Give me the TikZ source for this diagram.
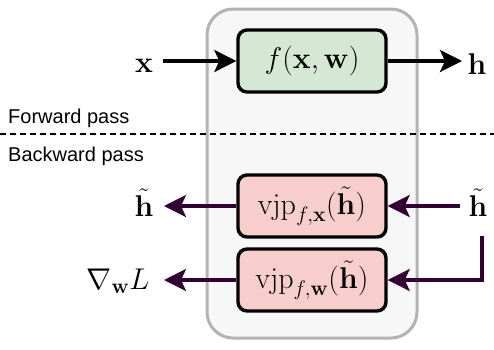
\RequirePackage{fix-cm}
\documentclass[tikz,border=0pt]{standalone}
\usepackage[no-math]{fontspec}
\newfontfamily\passfont{Liberation Sans}
\usetikzlibrary{arrows.meta}
\definecolor{grayfill}{HTML}{F7F7F7}
\definecolor{grayline}{HTML}{B3B3B3}
\definecolor{greenfill}{HTML}{D5E8D4}
\definecolor{redfill}{HTML}{F8CECC}
\definecolor{purp}{HTML}{330033}
\begin{document}
\begin{tikzpicture}[x=1pt,y=-1pt,
  mathlbl/.style={font=\fontsize{30}{34}\selectfont, inner sep=0pt},
  fbox/.style={draw=black, line width=3.4pt, rounded corners=9pt, minimum width=148pt, minimum height=62pt, inner sep=0pt, font=\fontsize{30}{34}\selectfont},
  passlbl/.style={font=\passfont\fontsize{20}{24}\selectfont, anchor=base west, inner sep=0pt},
  fwd/.style={-{Stealth[length=22pt,width=22pt,inset=5pt]}, line width=3.2pt, black},
  bwd/.style={-{Stealth[length=22pt,width=22pt,inset=5pt]}, line width=3.2pt, purp},
]
\useasboundingbox (0,0) rectangle (494,349);
\draw[fill=grayfill, draw=grayline, line width=3pt, rounded corners=26pt] (207,9) rectangle (417,338);
\node[fbox, fill=greenfill] (f) at (312,61) {$f(\mathbf{x},\mathbf{w})$};
\node[fbox, fill=redfill] (vx) at (312,206) {$\mathrm{vjp}_{f,\mathbf{x}}(\tilde{\mathbf{h}})$};
\node[fbox, fill=redfill] (vw) at (312,280) {$\mathrm{vjp}_{f,\mathbf{w}}(\tilde{\mathbf{h}})$};
\node[mathlbl] (x) at (144,66) {$\mathbf{x}$};
\node[mathlbl] (h) at (477,64) {$\mathbf{h}$};
\node[mathlbl] (ht1) at (144,203) {$\tilde{\mathbf{h}}$};
\node[mathlbl] (ht2) at (478,203) {$\tilde{\mathbf{h}}$};
\node[mathlbl] (nab) at (118,281) {$\nabla_{\mathbf{w}}L$};
\node[passlbl] (fp) at (8,123) {Forward pass};
\node[passlbl] (bp) at (8,161) {Backward pass};
\coordinate (dl) at (0,134);
\coordinate (dr) at (494,134);
\draw[line width=1.6pt, dash pattern=on 6pt off 4pt] (dl) -- (dr);
\draw[fwd] (163,61) -- (f.west);
\draw[fwd] (f.east) -- (462,61);
\draw[bwd] (vx.west) -- (164,206);
\draw[bwd] (460,206) -- (vx.east);
\draw[bwd] (vw.west) -- (164,280);
\coordinate (turn) at (482,280);
\draw[bwd] (482,236) -- (turn) -- (vw.east);
\end{tikzpicture}
\end{document}
